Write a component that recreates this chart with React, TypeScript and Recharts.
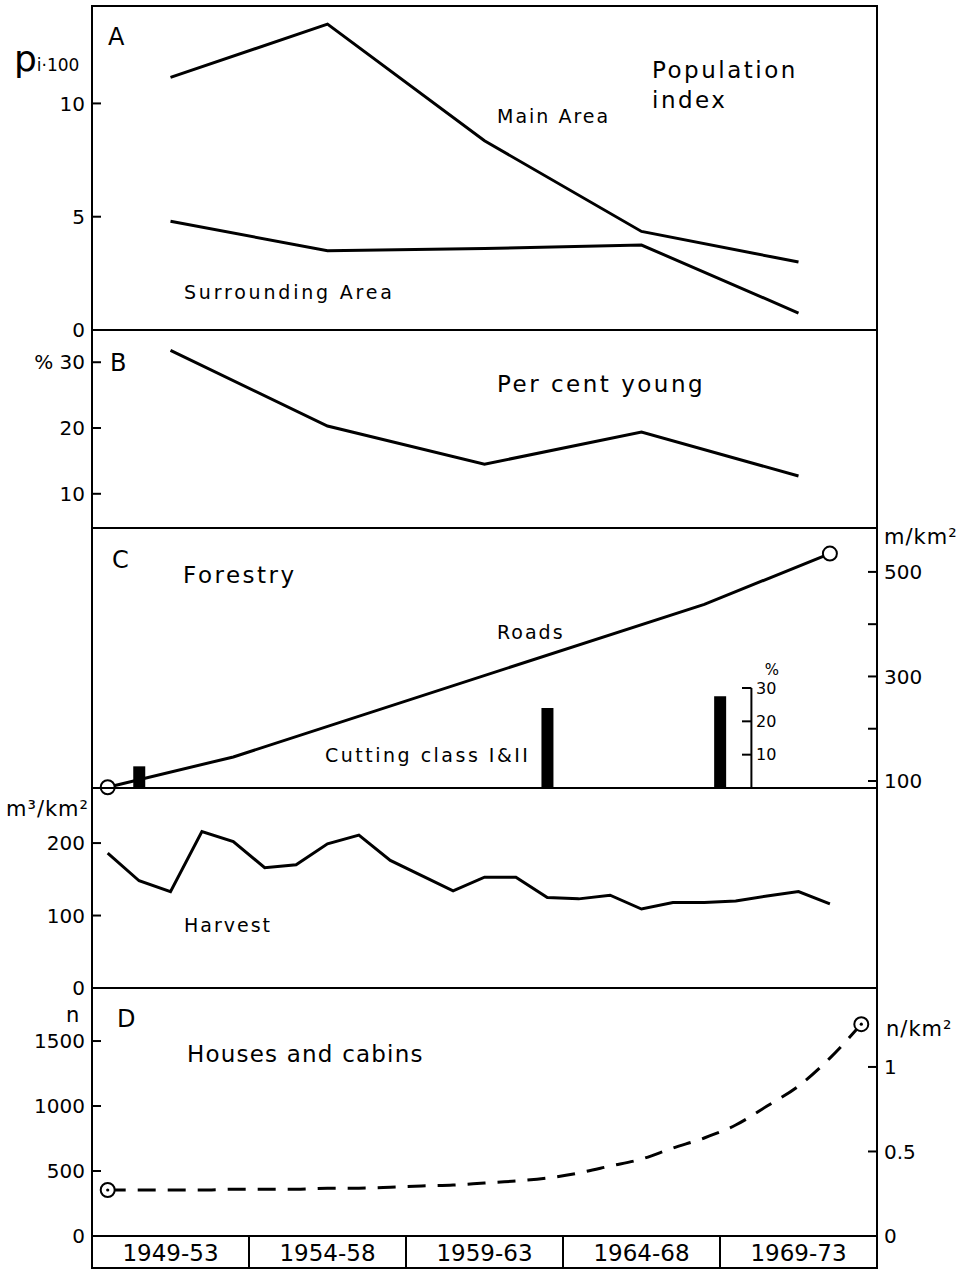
import React from "react";
import {
  LineChart,
  Line,
  ComposedChart,
  Bar,
  XAxis,
  YAxis,
  ReferenceArea,
  ReferenceLine,
  ReferenceDot,
} from "recharts";

// five-year periods (bottom boxes) and their mid years
const periods = ["1949-53", "1954-58", "1959-63", "1964-68", "1969-73"];
const periodMid = [1951, 1956, 1961, 1966, 1971];

// A: population index (pi * 100)
const mainArea = [11.15, 13.5, 8.35, 4.35, 3.0];
const surroundingArea = [4.8, 3.5, 3.6, 3.75, 0.75];
const popTicks = [0, 5, 10];

// B: per cent young
const perCentYoung = [31.8, 20.3, 14.5, 19.4, 12.7];
const youngTicks = [10, 20, 30];

// C: forestry roads (m/km2) and cutting class I & II (%)
const roadYears = [1949, 1953, 1968, 1972];
const roadValues = [88, 146, 438, 535];
const roadTicks = [100, 200, 300, 400, 500];
const roadLabelled = [100, 300, 500];
const cuttingYears = [1950, 1963, 1968.5];
const cuttingValues = [6.5, 24, 27.5];
const pctTicks = [10, 20, 30];

// C: harvest (m3/km2), yearly
const harvestYears = [
  1949, 1950, 1951, 1952, 1953, 1954, 1955, 1956, 1957, 1958, 1959, 1960,
  1961, 1962, 1963, 1964, 1965, 1966, 1967, 1968, 1969, 1970, 1971, 1972,
];
const harvestValues = [
  186, 148, 133, 216, 202, 166, 170, 199, 211, 176, 155, 134,
  153, 153, 125, 123, 128, 109, 118, 118, 120, 127, 133, 116,
];
const harvestTicks = [0, 100, 200];

// D: houses and cabins (n), yearly
const houseYears = [
  1949, 1950, 1951, 1952, 1953, 1954, 1955, 1956, 1957, 1958, 1959, 1960,
  1961, 1962, 1963, 1964, 1965, 1966, 1967, 1968, 1969, 1970, 1971, 1972, 1973,
];
const houseValues = [
  354, 354, 354, 354, 360, 360, 360, 368, 368, 375, 385, 392,
  408, 423, 446, 485, 538, 592, 677, 754, 854, 1000, 1154, 1369, 1630,
];
const houseTicks = [0, 500, 1000, 1500];
const densityTicks = [0, 0.5, 1];

const FONT = "'DejaVu Sans', sans-serif";
const W = 962;
const PLOT_LEFT = 92;
const PLOT_RIGHT = 877;
const AXIS_W = 70;
const X_DOMAIN: [number, number] = [1948.5, 1973.5];
const BOX_W = (PLOT_RIGHT - PLOT_LEFT) / periods.length;

const tickText = { fill: "#000", fontSize: 20, fontFamily: FONT };

const axisCommon = {
  type: "number" as const,
  width: AXIS_W,
  axisLine: false,
  tickLine: { stroke: "#000", strokeWidth: 2 },
  tickSize: -9,
  tickMargin: 16,
  tick: tickText,
  interval: 0 as const,
};

const popRows = periodMid.map((year, i) => ({
  year,
  main: mainArea[i],
  surr: surroundingArea[i],
  young: perCentYoung[i],
}));

const forestRows = [
  ...roadYears.map((year, i) => ({ year, roads: roadValues[i], cutting: null as number | null })),
  ...cuttingYears.map((year, i) => ({ year, roads: null as number | null, cutting: cuttingValues[i] })),
].sort((a, b) => a.year - b.year);

const harvestRows = harvestYears.map((year, i) => ({ year, harvest: harvestValues[i] }));
const houseRows = houseYears.map((year, i) => ({ year, houses: houseValues[i] }));

const hiddenX = <XAxis type="number" dataKey="year" domain={X_DOMAIN} hide />;

const frame = (yAxisId: string, y1: number, y2: number) => (
  <ReferenceArea
    yAxisId={yAxisId}
    x1={X_DOMAIN[0]}
    x2={X_DOMAIN[1]}
    y1={y1}
    y2={y2}
    fill="none"
    stroke="#000"
    strokeWidth={2}
    ifOverflow="visible"
  />
);

// open circle at first / last point, optionally with a centre dot
const endCircle = (key: string, first: number, last: number, centre: boolean) => (props: any) => {
  const { cx, cy, payload, index } = props;
  const v = payload ? payload[key] : null;
  if (v == null || cy == null || (payload.year !== first && payload.year !== last)) {
    return <g key={`d${index}`} />;
  }
  return (
    <g key={`d${index}`}>
      <circle cx={cx} cy={cy} r={7} fill="#fff" stroke="#000" strokeWidth={2} />
      {centre && <circle cx={cx} cy={cy} r={1.6} fill="#000" />}
    </g>
  );
};

const PeriodTick = (props: any) => {
  const { x, y, index } = props;
  return (
    <g>
      <rect x={x - BOX_W / 2} y={y} width={BOX_W} height={32} fill="#fff" stroke="#000" strokeWidth={2} />
      <text x={x} y={y + 25} textAnchor="middle" fontSize={23} fontFamily={FONT} fill="#000">
        {periods[index]}
      </text>
    </g>
  );
};

const Txt = ({ x, y, size = 19, spacing = 2, children }: any) => (
  <div
    style={{
      position: "absolute",
      left: x,
      top: y - size * 0.62,
      fontSize: size,
      lineHeight: 1.2,
      letterSpacing: spacing,
      fontFamily: FONT,
      color: "#000",
      whiteSpace: "nowrap",
    }}
  >
    {children}
  </div>
);

const Panel = ({ top, children }: any) => (
  <div style={{ position: "absolute", left: 0, top }}>{children}</div>
);

export default function App() {
  return (
    <div style={{ position: "absolute", left: 0, top: 0, width: W, height: 1272, background: "#fff" }}>
      {/* A: population index, plot 6..330 */}
      <Panel top={0}>
        <LineChart width={W} height={342} data={popRows}
          margin={{ top: 6, bottom: 12, left: PLOT_LEFT - AXIS_W, right: W - PLOT_RIGHT }}>
          {hiddenX}
          <YAxis yAxisId="p" {...axisCommon} domain={[0, 14.3]} ticks={popTicks} />
          {frame("p", 0, 14.3)}
          <Line yAxisId="p" dataKey="main" stroke="#000" strokeWidth={3} dot={false} isAnimationActive={false} />
          <Line yAxisId="p" dataKey="surr" stroke="#000" strokeWidth={3} dot={false} isAnimationActive={false} />
        </LineChart>
      </Panel>

      {/* B: per cent young, plot 330..528 */}
      <Panel top={318}>
        <LineChart width={W} height={222} data={popRows}
          margin={{ top: 12, bottom: 12, left: PLOT_LEFT - AXIS_W, right: W - PLOT_RIGHT }}>
          {hiddenX}
          <YAxis yAxisId="y" {...axisCommon} domain={[4.8, 34.9]} ticks={youngTicks}
            tickFormatter={(v: number) => (v === 30 ? "%  30" : String(v))} />
          {frame("y", 4.8, 34.9)}
          <Line yAxisId="y" dataKey="young" stroke="#000" strokeWidth={3} dot={false} isAnimationActive={false} />
        </LineChart>
      </Panel>

      {/* C: roads + cutting class, plot 528..788 */}
      <Panel top={516}>
        <ComposedChart width={W} height={284} data={forestRows}
          margin={{ top: 12, bottom: 12, left: PLOT_LEFT, right: W - PLOT_RIGHT - AXIS_W }}>
          {hiddenX}
          <YAxis yAxisId="pct" type="number" domain={[0, 78]} hide />
          <YAxis yAxisId="r" orientation="right" {...axisCommon} domain={[86.6, 584]} ticks={roadTicks}
            tickFormatter={(v: number) => (roadLabelled.includes(v) ? String(v) : "")} />
          {frame("r", 86.6, 584)}
          <Bar yAxisId="pct" dataKey="cutting" fill="#000" barSize={12} isAnimationActive={false} />
          <ReferenceLine yAxisId="pct" segment={[{ x: 1969.5, y: 0 }, { x: 1969.5, y: 30 }]}
            stroke="#000" strokeWidth={2} ifOverflow="visible" />
          {pctTicks.map((v) => (
            <ReferenceLine key={`t${v}`} yAxisId="pct" segment={[{ x: 1969.2, y: v }, { x: 1969.5, y: v }]}
              stroke="#000" strokeWidth={2} ifOverflow="visible" />
          ))}
          {pctTicks.map((v) => (
            <ReferenceDot key={`l${v}`} yAxisId="pct" x={1969.55} y={v} r={0} fill="none" stroke="none"
              label={{ value: String(v), position: "right", offset: 3, fontSize: 16, fill: "#000", fontFamily: FONT }} />
          ))}
          <ReferenceDot yAxisId="pct" x={1970.15} y={35.4} r={0} fill="none" stroke="none"
            label={{ value: "%", position: "center", fontSize: 15, fill: "#000", fontFamily: FONT }} />
          <Line yAxisId="r" dataKey="roads" stroke="#000" strokeWidth={3} connectNulls
            dot={endCircle("roads", roadYears[0], roadYears[roadYears.length - 1], false)}
            activeDot={false} isAnimationActive={false} />
        </ComposedChart>
      </Panel>

      {/* C: harvest, plot 788..988 */}
      <Panel top={776}>
        <LineChart width={W} height={224} data={harvestRows}
          margin={{ top: 12, bottom: 12, left: PLOT_LEFT - AXIS_W, right: W - PLOT_RIGHT }}>
          {hiddenX}
          <YAxis yAxisId="h" {...axisCommon} domain={[0, 276]} ticks={harvestTicks} />
          {frame("h", 0, 276)}
          <Line yAxisId="h" dataKey="harvest" stroke="#000" strokeWidth={3} dot={false} isAnimationActive={false} />
        </LineChart>
      </Panel>

      {/* D: houses and cabins, plot 988..1236, period boxes below */}
      <Panel top={976}>
        <LineChart width={W} height={296} data={houseRows}
          margin={{ top: 12, bottom: 0, left: PLOT_LEFT - AXIS_W, right: W - PLOT_RIGHT - AXIS_W }}>
          <XAxis type="number" dataKey="year" domain={X_DOMAIN} ticks={periodMid}
            interval={0} axisLine={false} tickLine={false} tickSize={0} tickMargin={0} height={36}
            tick={<PeriodTick />} />
          <YAxis yAxisId="n" {...axisCommon} domain={[0, 1908]} ticks={houseTicks} />
          {/* density scale has no series of its own, so its domain is forced */}
          <YAxis yAxisId="d" orientation="right" {...axisCommon} domain={[0, 1.467]} ticks={densityTicks}
            allowDataOverflow />
          {frame("n", 0, 1908)}
          <Line yAxisId="n" dataKey="houses" type="monotone" stroke="#000" strokeWidth={3}
            strokeDasharray="18 12"
            dot={endCircle("houses", houseYears[0], houseYears[houseYears.length - 1], true)}
            activeDot={false} isAnimationActive={false} />
        </LineChart>
      </Panel>

      {/* annotations */}
      <div style={{ position: "absolute", left: 14, top: 38, fontFamily: FONT, color: "#000", whiteSpace: "nowrap" }}>
        <span style={{ fontSize: 36 }}>p</span>
        <span style={{ fontSize: 17 }}>i·100</span>
      </div>
      <Txt x={108} y={38} size={24} spacing={0}>A</Txt>
      <Txt x={652} y={71} size={23} spacing={2.5}>Population</Txt>
      <Txt x={652} y={101} size={23} spacing={2.5}>index</Txt>
      <Txt x={497} y={117}>Main Area</Txt>
      <Txt x={184} y={293} spacing={2.8}>Surrounding Area</Txt>

      <Txt x={110} y={364} size={24} spacing={0}>B</Txt>
      <Txt x={497} y={385} size={23} spacing={2.5}>Per cent young</Txt>

      <Txt x={112} y={561} size={24} spacing={0}>C</Txt>
      <Txt x={183} y={576} size={23} spacing={2.5}>Forestry</Txt>
      <Txt x={497} y={633}>Roads</Txt>
      <Txt x={325} y={756} spacing={2.5}>Cutting class I&amp;II</Txt>
      <Txt x={884} y={538} size={21} spacing={1}>m/km²</Txt>
      <Txt x={6} y={810} size={21} spacing={1}>m³/km²</Txt>
      <Txt x={184} y={926}>Harvest</Txt>

      <Txt x={117} y={1020} size={24} spacing={0}>D</Txt>
      <Txt x={66} y={1016} size={21} spacing={0}>n</Txt>
      <Txt x={187} y={1055} size={23} spacing={1.2}>Houses and cabins</Txt>
      <Txt x={886} y={1030} size={21} spacing={1}>n/km²</Txt>
    </div>
  );
}
